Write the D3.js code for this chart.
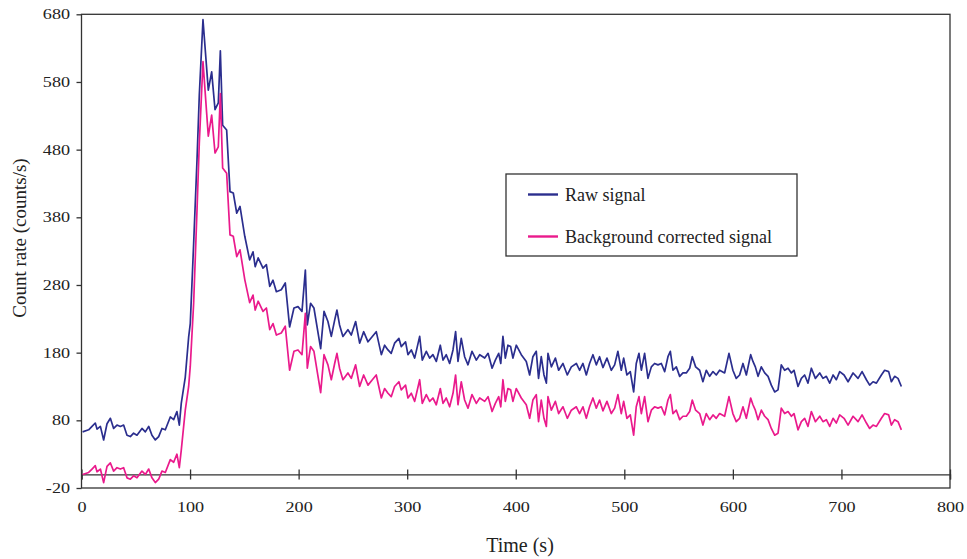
<!DOCTYPE html>
<html>
<head>
<meta charset="utf-8">
<script src="https://cdn.jsdelivr.net/npm/d3@7"></script>
<style>
  html, body { margin: 0; padding: 0; background: #fff; }
  svg { display: block; }
  text { font-family: "Liberation Serif", "Times New Roman", serif; fill: #222; }
</style>
</head>
<body>
<svg id="chart" width="967" height="559"></svg>
<script>
// ---------------- data ----------------
const times = [1.0,6.6,9.7,12.7,14.3,17.4,20.4,23.5,26.6,29.6,32.7,35.8,38.8,41.9,45.0,48.0,51.1,55.7,58.8,61.9,64.9,68.0,71.1,74.1,77.2,81.8,84.9,87.9,90.1,91.9,95.6,98.7,100.2,103.3,106.4,108.5,111.9,116.8,119.9,123.0,126.0,127.9,130.0,133.7,136.8,139.8,143.0,146.0,150.4,154.9,158.0,160.0,162.7,167.2,170.3,173.4,176.4,179.5,184.0,187.7,191.7,195.7,199.4,203.1,206.2,208.0,211.0,214.1,220.3,223.4,227.0,230.1,233.2,235.3,237.7,240.8,245.4,248.5,252.5,256.2,259.9,263.9,267.9,271.5,276.2,279.2,282.3,285.3,288.4,292.4,294.5,298.5,300.7,303.8,306.9,311.5,313.9,317.6,320.7,323.7,326.8,330.5,333.0,336.0,339.1,342.2,344.6,346.8,349.8,352.9,356.0,359.7,363.7,366.8,371.4,374.5,378.2,381.2,384.3,386.2,388.2,390.4,392.8,395.3,397.4,400.5,405.1,409.7,412.8,415.8,418.9,421.0,423.5,426.0,428.2,429.7,432.8,436.5,439.5,443.5,447.5,451.2,455.8,458.8,461.9,465.0,468.0,471.1,474.2,477.2,480.3,484.0,488.0,491.1,494.1,497.2,499.4,502.4,505.5,508.6,511.0,513.5,515.7,518.7,521.8,524.9,527.9,531.0,534.1,537.2,540.2,542.4,544.8,547.9,551.0,554.0,557.1,560.2,562.6,565.7,569.4,572.4,575.5,578.6,581.7,584.7,587.8,592.4,596.4,600.0,603.1,606.2,609.3,612.4,616.4,618.5,620.7,623.2,626.2,629.3,632.4,635.4,638.5,641.6,644.6,647.7,650.8,653.9,656.3,660.0,663.1,666.1,669.2,672.3,676.0,680.0,683.0,686.1,689.2,692.3,695.3,698.4,702.4,706.1,710.7,715.3,719.0,723.0,726.0,729.1,732.2,736.8,739.8,743.5,746.0,749.0,752.1,755.2];

const rawSignal = [63,66,71,76,67,71,51,75,83,68,73,71,73,58,56,61,58,68,63,71,58,51,56,68,66,85,81,93,73,105,144,203,223,341,465,560,672,568,595,539,549,626,516,509,418,416,386,396,352,317,329,307,320,305,310,278,287,270,273,283,218,246,248,241,302,221,253,246,186,241,226,204,228,243,221,204,214,206,226,194,211,196,204,211,177,191,184,179,194,201,189,196,177,184,172,204,169,182,172,177,167,191,169,177,164,184,211,167,201,174,162,182,169,177,172,179,157,169,179,164,204,172,191,189,172,191,177,167,147,174,182,142,174,147,135,179,159,172,154,164,147,159,164,154,164,147,164,177,162,174,158,172,154,162,182,154,172,147,152,122,164,179,154,179,142,159,164,162,164,152,174,182,154,159,145,150,150,157,174,159,154,137,154,145,152,147,154,150,179,154,142,147,164,147,177,167,159,145,159,150,145,132,122,125,162,154,157,150,154,130,142,147,135,157,142,150,142,145,135,147,140,152,147,137,150,142,152,140,132,137,135,147,154,152,137,145,142,130];

const correctedSignal = [0,3,8,13,4,8,-12,12,17,5,10,8,10,-5,-7,-2,-5,5,0,8,-5,-12,-7,5,3,22,18,30,10,36,95,130,160,253,391,489,610,500,531,475,484,563,453,445,354,352,322,332,288,254,265,243,256,241,246,214,223,206,209,219,154,182,184,177,238,157,189,182,121,177,162,140,164,179,157,140,150,142,162,130,147,132,140,147,113,127,120,115,130,137,125,132,113,120,108,140,105,118,108,113,103,127,105,113,100,120,147,103,137,110,98,118,105,113,108,115,93,105,115,100,140,108,127,125,108,127,113,103,83,110,118,78,110,83,71,115,95,108,90,100,83,95,100,90,100,83,100,113,98,110,94,108,90,98,118,90,108,83,88,58,100,115,90,115,78,95,100,98,100,88,110,118,90,95,81,86,86,93,110,95,90,73,90,81,88,83,90,86,115,90,78,83,100,83,113,103,95,81,95,86,81,68,58,61,98,90,93,86,90,66,78,83,71,93,78,86,78,81,71,83,76,88,83,73,86,78,88,76,68,73,71,83,90,88,73,81,78,66];

const xTicks = [0,100,200,300,400,500,600,700,800];
const yTicks = [-20,80,180,280,380,480,580,680];
const seriesNames = ["Raw signal", "Background corrected signal"];
const seriesColors = ["#2b2e8e", "#ea1a8c"];

// ---------------- layout ----------------
const svg = d3.select("#chart");
const plotL = 81.5, plotR = 950, plotT = 14.3, plotB = 488;

const x = d3.scaleLinear().domain([0, 800]).range([plotL, plotR]);
const y = d3.scaleLinear().domain([-20, 680]).range([plotB, plotT]);
const plainFmt = d => String(d);

// frame
svg.append("rect")
  .attr("x", plotL).attr("y", plotT)
  .attr("width", plotR - plotL).attr("height", plotB - plotT)
  .attr("fill", "none").attr("stroke", "#333").attr("stroke-width", 1.3);

// y axis (ticks outward, labels)
const yAxis = svg.append("g")
  .attr("transform", `translate(${plotL},0)`)
  .call(d3.axisLeft(y).tickValues(yTicks).tickSize(5).tickFormat(plainFmt));
yAxis.select(".domain").remove();
yAxis.selectAll("line").attr("stroke", "#333").attr("stroke-width", 1.3);
yAxis.selectAll("text")
  .attr("x", -9.2)
  .attr("transform", "scale(1.25,1)")
  .style("font-size", "14.5px")
  .attr("fill", "#222");

// zero line with crossing ticks
const zeroAxis = svg.append("g")
  .attr("transform", `translate(0,${y(0)})`)
  .call(d3.axisBottom(x).tickValues(xTicks).tickSize(5).tickFormat(""));
zeroAxis.select(".domain").attr("stroke", "#333").attr("stroke-width", 1.3);
zeroAxis.selectAll(".tick line").attr("y1", -5).attr("y2", 5)
  .attr("stroke", "#333").attr("stroke-width", 1.3);

// x tick labels below the frame
const xLab = svg.append("g")
  .attr("transform", `translate(0,${plotB})`)
  .call(d3.axisBottom(x).tickValues(xTicks).tickSize(0).tickPadding(13.4).tickFormat(plainFmt));
xLab.select(".domain").remove();
xLab.selectAll("text")
  .attr("transform", "scale(1.25,1)")
  .style("font-size", "14.5px")
  .attr("fill", "#222");

// axis titles
svg.append("text")
  .attr("x", 520).attr("y", 551.5)
  .attr("text-anchor", "middle")
  .style("font-size", "20px")
  .text("Time (s)");

svg.append("text")
  .attr("transform", "translate(26,238) rotate(-90)")
  .attr("text-anchor", "middle")
  .style("font-size", "19px")
  .text("Count rate (counts/s)");

// lines
const line = d3.line()
  .x((d, i) => x(times[i]))
  .y(d => y(d));

[rawSignal, correctedSignal].forEach((vals, k) => {
  svg.append("path")
    .datum(vals)
    .attr("d", line)
    .attr("fill", "none")
    .attr("stroke", seriesColors[k])
    .attr("stroke-width", 1.7)
    .attr("stroke-linejoin", "round");
});

// legend
const lg = svg.append("g");
lg.append("rect")
  .attr("x", 506).attr("y", 174)
  .attr("width", 291).attr("height", 82)
  .attr("fill", "#fff").attr("stroke", "#333").attr("stroke-width", 1.3);
const legendY = [194.5, 236.5];
seriesNames.forEach((name, k) => {
  lg.append("line")
    .attr("x1", 528).attr("x2", 558)
    .attr("y1", legendY[k]).attr("y2", legendY[k])
    .attr("stroke", seriesColors[k]).attr("stroke-width", 2.4);
  lg.append("text")
    .attr("x", 565).attr("y", legendY[k] + 6.5)
    .style("font-size", "18px")
    .text(name);
});
</script>
</body>
</html>
